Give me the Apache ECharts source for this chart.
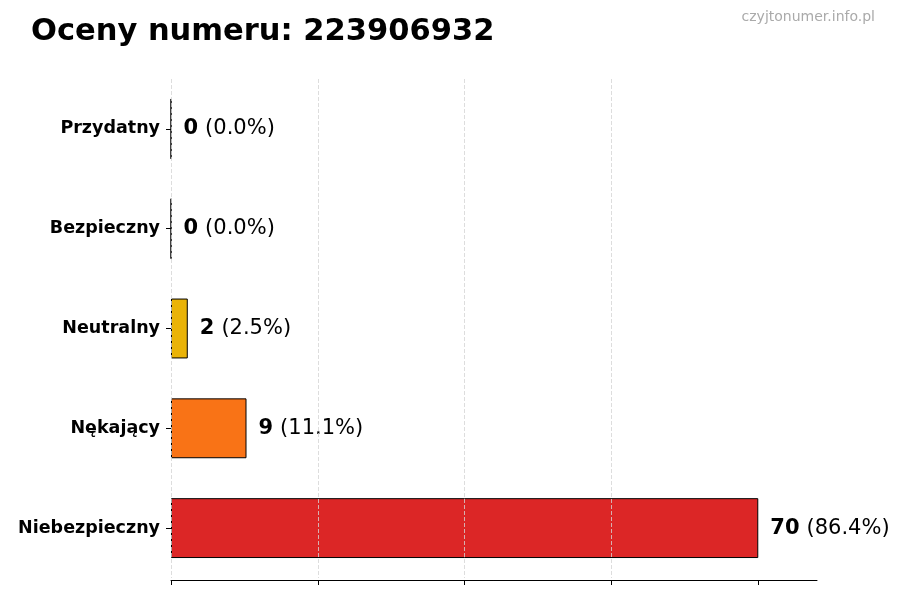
<!DOCTYPE html>
<html><head><meta charset="utf-8">
<script src="https://cdn.jsdelivr.net/npm/echarts@6/dist/echarts.min.js"></script>
<style>html,body{margin:0;padding:0;background:#fff}#c{width:900px;height:600px}</style>
</head><body><div id="c"></div>
<script>
const categories = ['Przydatny', 'Bezpieczny', 'Neutralny', 'Nękający', 'Niebezpieczny'];
const counts = [0, 0, 2, 9, 70];
const percents = ['0.0%', '0.0%', '2.5%', '11.1%', '86.4%'];
const colors = ['#22c55e', '#3b82f6', '#eab308', '#f97316', '#dc2626'];
const xTicks = [0, 17.5, 35, 52.5, 70];
const titleText = 'Oceny numeru: 223906932';
const watermark = 'czyjtonumer.info.pl';

const FONT = 'DejaVu Sans';
const chart = echarts.init(document.getElementById('c'));
chart.setOption({
  animation: false,
  backgroundColor: '#fff',
  textStyle: { fontFamily: FONT },
  title: {
    text: titleText, left: 26, top: 12,
    textStyle: { fontFamily: FONT, fontSize: 30.5, fontWeight: 'bold', color: '#000' }
  },
  graphic: [{
    type: 'text', right: 25, top: 10,
    style: { text: watermark, fontFamily: FONT, fontSize: 14, fill: '#aaaaaa' }
  }],
  grid: { left: 171, right: 83, top: 79, bottom: 22, containLabel: false },
  xAxis: {
    type: 'value', min: 0, max: 77, interval: 17.5, offset: 2, z: 10,
    axisLine: { show: true, lineStyle: { color: '#000', width: 1 } },
    axisTick: { show: true, length: 5, customValues: xTicks, lineStyle: { color: '#000' } },
    axisLabel: { show: false },
    splitLine: { show: true, showMaxLine: false, lineStyle: { color: '#d4d4d4', type: [4, 2], width: 0.8 } }
  },
  yAxis: {
    type: 'category', data: categories, inverse: true,
    axisLine: { show: false },
    axisTick: { show: true, length: 5, alignWithLabel: true, lineStyle: { color: '#000' } },
    axisLabel: { margin: 11, fontFamily: FONT, fontSize: 17.5, fontWeight: 'bold', color: '#000' }
  },
  series: [{
    type: 'bar', barWidth: '60%',
    data: counts.map((v, i) => ({ value: v, itemStyle: { color: colors[i] } })),
    itemStyle: { borderColor: '#000', borderWidth: 1 },
    label: {
      show: true, position: 'right', distance: 12,
      formatter: p => '{b|' + counts[p.dataIndex] + '}{n|(' + percents[p.dataIndex] + ')}',
      rich: {
        b: { fontFamily: FONT, fontSize: 21, fontWeight: 'bold', color: '#000', padding: [0, 7, 0, 0] },
        n: { fontFamily: FONT, fontSize: 21, color: '#000' }
      }
    }
  }]
});
</script></body></html>
